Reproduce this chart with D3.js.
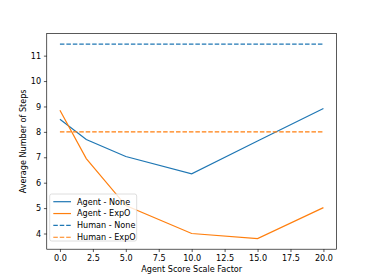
<!DOCTYPE html>
<html>
<head>
<meta charset="utf-8">
<script src="https://cdn.jsdelivr.net/npm/d3@7"></script>
<style>
  body { margin: 0; background: #fff; }
  text { font-family: "DejaVu Sans", sans-serif; }
</style>
</head>
<body>
<svg id="chart" width="374" height="280"></svg>
<script>
// data
const scaleFactors = [0, 2, 5, 10, 15, 20];
const agentNone = [8.5, 7.7, 7.03, 6.35, 7.64, 8.92];
const agentExpO = [8.85, 6.95, 5.1, 4.0, 3.8, 5.02];
const humanNone = [11.45, 11.45, 11.45, 11.45, 11.45, 11.45];
const humanExpO = [8.0, 8.0, 8.0, 8.0, 8.0, 8.0];
const xTicks = [0, 2.5, 5, 7.5, 10, 12.5, 15, 17.5, 20];
const yTicks = [4, 5, 6, 7, 8, 9, 10, 11];
const seriesNames = ["Agent - None", "Agent - ExpO", "Human - None", "Human - ExpO"];

const blue = "#1f77b4", orange = "#ff7f0e";
const series = [
  { name: seriesNames[0], values: agentNone, color: blue, dash: null },
  { name: seriesNames[1], values: agentExpO, color: orange, dash: null },
  { name: seriesNames[2], values: humanNone, color: blue, dash: "4.5,1.95" },
  { name: seriesNames[3], values: humanExpO, color: orange, dash: "4.5,1.95" }
];

const m = { left: 46.75, right: 336.6, top: 33.6, bottom: 249.2 };
const fs = 8.1;

const svg = d3.select("#chart");

const x = d3.scaleLinear().domain([-1, 21]).range([m.left, m.right]);
const y = d3.scaleLinear().domain([3.3825, 11.8675]).range([m.bottom, m.top]);

const line = d3.line()
  .x((d, i) => x(scaleFactors[i]))
  .y(d => y(d));

svg.selectAll("path.series")
  .data(series)
  .enter()
  .append("path")
  .attr("class", "series")
  .attr("d", s => line(s.values))
  .attr("fill", "none")
  .attr("stroke", s => s.color)
  .attr("stroke-width", 1.2)
  .attr("stroke-dasharray", s => s.dash);

// axes
const xAxis = svg.append("g")
  .attr("transform", `translate(0,${m.bottom})`)
  .call(d3.axisBottom(x).tickValues(xTicks).tickFormat(d3.format(".1f")).tickSize(2.85).tickPadding(2.85));
const yAxis = svg.append("g")
  .attr("transform", `translate(${m.left},0)`)
  .call(d3.axisLeft(y).tickValues(yTicks).tickFormat(d3.format("d")).tickSize(2.85).tickPadding(2.85));

[xAxis, yAxis].forEach(g => {
  g.select(".domain").remove();
  g.selectAll(".tick line").attr("stroke", "#000").attr("stroke-width", 0.65);
  g.selectAll(".tick text").attr("font-size", fs).attr("fill", "#000")
    .style("font-family", "DejaVu Sans");
});

// frame
svg.append("rect")
  .attr("x", m.left).attr("y", m.top)
  .attr("width", m.right - m.left).attr("height", m.bottom - m.top)
  .attr("fill", "none").attr("stroke", "#000").attr("stroke-width", 0.65);

// labels
svg.append("text")
  .attr("x", (m.left + m.right) / 2).attr("y", 272)
  .attr("text-anchor", "middle").attr("font-size", fs)
  .text("Agent Score Scale Factor");
svg.append("text")
  .attr("transform", `translate(25.5,${(m.top + m.bottom) / 2}) rotate(-90)`)
  .attr("text-anchor", "middle").attr("font-size", fs)
  .text("Average Number of Steps");

// legend
const lg = svg.append("g");
lg.append("rect")
  .attr("x", 49.7).attr("y", 194).attr("width", 87).attr("height", 47)
  .attr("rx", 2).attr("fill", "#fff").attr("fill-opacity", 0.8)
  .attr("stroke", "#cccccc").attr("stroke-width", 0.65);
series.forEach((s, i) => {
  const yy = 201.7 + i * 11.85;
  lg.append("line")
    .attr("x1", 53.3).attr("x2", 71).attr("y1", yy).attr("y2", yy)
    .attr("stroke", s.color).attr("stroke-width", 1.2)
    .attr("stroke-dasharray", s.dash);
  lg.append("text")
    .attr("x", 77).attr("y", yy).attr("dy", "0.35em")
    .attr("font-size", fs).text(s.name);
});
</script>
</body>
</html>
